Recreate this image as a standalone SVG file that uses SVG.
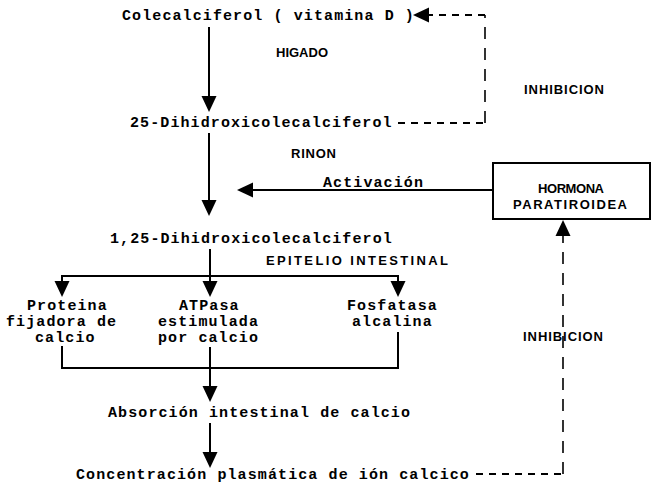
<svg xmlns="http://www.w3.org/2000/svg" width="651" height="494" viewBox="0 0 651 494">
<style>
.t{font-family:"Liberation Mono","DejaVu Sans Mono",monospace;font-weight:bold;font-size:15px;letter-spacing:1.1px;fill:#000}
.l{font-family:"Liberation Sans","DejaVu Sans",sans-serif;font-weight:bold;font-size:13px;fill:#000}
.ln{stroke:#000;stroke-width:2;fill:none}
.dl{stroke:#000;stroke-width:2;fill:none;stroke-dasharray:7 6}
.dv{stroke:#000;stroke-width:1.6;fill:none;stroke-dasharray:12 9}
.hd{fill:#000}
</style>
<defs>
<path id="hd" d="M0,0 L-7.5,-16 L7.5,-16 z"/>
</defs>
<rect width="651" height="494" fill="#fff"/>

<g id="connectors">
<line class="ln" x1="209" y1="27" x2="209" y2="100"/>
<use href="#hd" class="hd" transform="translate(209,112)"/>
<line class="ln" x1="209" y1="133" x2="209" y2="204"/>
<use href="#hd" class="hd" transform="translate(209,216)"/>
<line class="ln" x1="493" y1="190" x2="250" y2="190"/>
<use href="#hd" class="hd" transform="translate(237,190) rotate(90)"/>
<line class="ln" x1="210" y1="249" x2="210" y2="276"/>
<polyline class="ln" points="62,286 62,276 398,276 398,286"/>
<line class="ln" x1="210" y1="276" x2="210" y2="286"/>
<path class="hd" d="M62,297 L54.5,281 L69.5,281 z"/>
<path class="hd" d="M210,297 L202.5,281 L217.5,281 z"/>
<path class="hd" d="M398,297 L390.5,281 L405.5,281 z"/>
<polyline class="ln" points="62,346 62,368 398,368 398,332"/>
<line class="ln" x1="210" y1="347" x2="210" y2="390"/>
<use href="#hd" class="hd" transform="translate(210,402)"/>
<line class="ln" x1="210" y1="423" x2="210" y2="456"/>
<use href="#hd" class="hd" transform="translate(210,468)"/>
<polyline class="dl" points="398,123 485,123"/>
<polyline class="dv" points="485,123 485,15"/>
<polyline class="dl" points="485,15 428,15"/>
<use href="#hd" class="hd" transform="translate(413,15) rotate(90)"/>
<polyline class="dl" points="476,474 563,474"/>
<polyline class="dv" points="563,474 563,234"/>
<use href="#hd" class="hd" transform="translate(563,220) rotate(180)"/>
</g>

<g id="n-colecalciferol"><text class="t" x="122" y="20">Colecalciferol ( vitamina D )</text></g>
<g id="l-higado"><text class="l" x="276" y="57" textLength="52" lengthAdjust="spacing">HIGADO</text></g>
<g id="l-inhib1"><text class="l" x="524" y="94" textLength="80" lengthAdjust="spacing">INHIBICION</text></g>
<g id="n-25"><text class="t" x="130" y="127">25-Dihidroxicolecalciferol</text></g>
<g id="l-rinon"><text class="l" x="291" y="158" textLength="45" lengthAdjust="spacing">RINON</text></g>
<g id="l-activacion"><text class="t" x="323" y="187">Activación</text></g>
<g id="n-hormona">
<rect x="493" y="163" width="157" height="56" class="ln"/>
<text class="l" x="538" y="193" textLength="66" lengthAdjust="spacing">HORMONA</text>
<text class="l" x="513" y="209" textLength="114" lengthAdjust="spacing">PARATIROIDEA</text>
</g>
<g id="n-125"><text class="t" x="110" y="243">1,25-Dihidroxicolecalciferol</text></g>
<g id="l-epitelio"><text class="l" x="266" y="265" textLength="182" lengthAdjust="spacing">EPITELIO INTESTINAL</text></g>
<g id="n-proteina">
<text class="t" x="27" y="310">Proteina</text>
<text class="t" x="6" y="326">fijadora de</text>
<text class="t" x="35" y="342">calcio</text>
</g>
<g id="n-atpasa">
<text class="t" x="179" y="310">ATPasa</text>
<text class="t" x="158" y="326">estimulada</text>
<text class="t" x="158" y="342">por calcio</text>
</g>
<g id="n-fosfatasa">
<text class="t" x="347" y="310">Fosfatasa</text>
<text class="t" x="352" y="326">alcalina</text>
</g>
<g id="l-inhib2"><text class="l" x="523" y="341" textLength="80" lengthAdjust="spacing">INHIBICION</text></g>
<g id="n-absorcion"><text class="t" x="108" y="417">Absorción intestinal de calcio</text></g>
<g id="n-concentracion"><text class="t" x="76" y="479">Concentración plasmática de ión calcico</text></g>
</svg>
